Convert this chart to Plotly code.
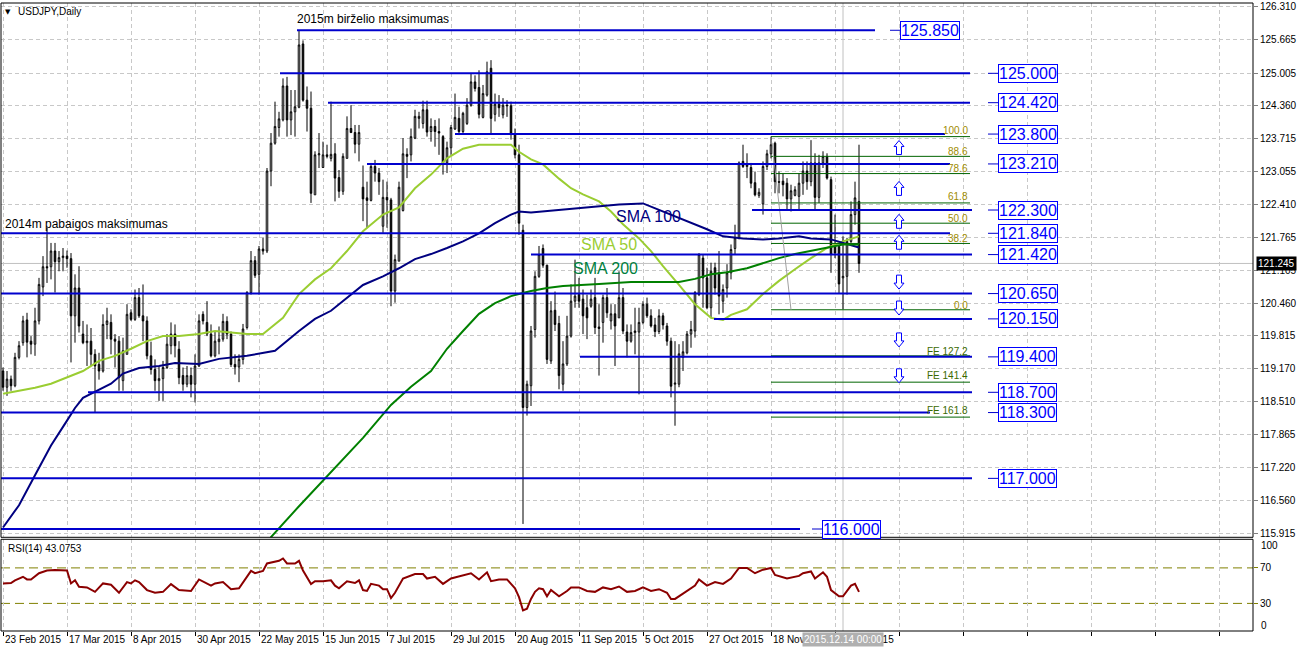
import plotly.graph_objects as go

# ------------------------------------------------------------------ data
tick_labels = ["23 Feb 2015", "17 Mar 2015", "8 Apr 2015", "30 Apr 2015", "22 May 2015",
               "15 Jun 2015", "7 Jul 2015", "29 Jul 2015", "20 Aug 2015", "11 Sep 2015",
               "5 Oct 2015", "27 Oct 2015", "18 Nov 2015", "10 Dec 2015"]

price_ticks = [126.310, 125.665, 125.005, 124.360, 123.715, 123.055, 122.410, 121.765,
               121.105, 120.460, 119.815, 119.170, 118.510, 117.865, 117.220, 116.560, 115.915]

opens = [119.12, 118.80, 118.96, 118.83, 119.39, 119.68, 120.13, 119.71, 119.65, 120.11,
         120.78, 121.18, 121.18, 121.49, 121.28, 121.36, 121.39, 121.34, 120.21, 120.76,
         119.85, 119.68, 119.71, 119.45, 119.25, 119.12, 120.04, 120.08, 119.75, 119.71,
         118.93, 119.45, 120.27, 120.14, 120.57, 120.21, 120.11, 119.42, 119.15, 118.93,
         118.97, 119.19, 119.62, 119.85, 119.55, 119.03, 118.86, 119.03, 118.86, 119.22,
         120.24, 120.08, 119.85, 119.42, 119.70, 119.75, 120.10, 119.85, 119.25, 119.20,
         119.35, 119.98, 120.67, 121.30, 121.03, 121.53, 121.49, 123.07, 123.62, 123.93,
         124.08, 124.75, 124.08, 124.24, 124.33, 125.58, 124.47, 124.31, 122.60, 123.39,
         123.14, 123.39, 123.32, 123.41, 122.94, 122.67, 123.32, 123.91, 123.83, 123.60,
         122.75, 122.54, 122.49, 123.16, 123.03, 121.98, 122.55, 122.50, 120.70, 121.29,
         122.29, 123.40, 123.39, 123.72, 124.11, 124.01, 124.28, 123.85, 123.95, 123.85,
         123.75, 123.23, 123.53, 123.90, 124.11, 123.85, 124.01, 124.37, 124.83, 124.72,
         124.13, 124.57, 125.10, 124.19, 124.39, 124.18, 124.37, 124.36, 123.80, 123.39,
         121.90, 118.40, 118.83, 119.94, 120.99, 121.54, 121.21, 119.32, 120.32, 120.06,
         118.86, 119.26, 119.81, 120.50, 120.63, 120.54, 120.37, 120.40, 120.57, 119.99,
         120.08, 120.57, 120.11, 120.25, 120.17, 120.57, 119.89, 119.71, 119.88, 119.89,
         120.08, 120.44, 120.21, 120.03, 119.90, 120.21, 120.01, 119.71, 118.86, 118.86,
         119.39, 119.48, 119.85, 119.91, 120.63, 121.35, 120.96, 120.37, 121.16, 121.06,
         120.50, 120.76, 121.06, 121.54, 121.75, 123.26, 123.16, 123.14, 122.84, 122.59,
         122.42, 123.16, 123.41, 123.62, 122.86, 122.87, 122.83, 122.52, 122.59, 122.57,
         122.83, 123.07, 122.86, 123.23, 122.55, 123.23, 123.36, 122.90, 121.58, 121.58,
         120.96, 120.99, 121.68, 122.21, 122.47]

highs = [119.19, 119.12, 119.03, 119.48, 119.71, 120.21, 120.27, 119.81, 120.37, 120.96,
         121.39, 121.95, 121.65, 121.65, 121.49, 121.55, 121.50, 121.45, 121.03, 121.19,
         120.11, 120.04, 119.97, 119.55, 119.48, 120.24, 120.37, 120.24, 119.85, 119.81,
         119.78, 120.44, 120.34, 120.73, 120.76, 120.83, 120.20, 119.70, 119.35, 119.20,
         119.32, 119.85, 120.08, 120.04, 119.71, 119.19, 119.22, 119.19, 119.45, 120.24,
         120.30, 120.50, 120.04, 119.91, 120.00, 120.25, 120.20, 119.90, 119.45, 119.45,
         120.05, 120.70, 121.49, 121.39, 121.59, 121.75, 123.13, 123.82, 124.44, 124.24,
         124.90, 124.93, 124.67, 124.67, 125.85, 125.65, 124.74, 124.64, 123.46, 123.82,
         123.65, 123.59, 124.44, 123.62, 123.09, 123.42, 124.15, 124.37, 123.98, 123.98,
         123.18, 122.86, 123.23, 123.29, 123.13, 122.90, 122.86, 122.54, 121.42, 122.86,
         123.72, 123.52, 123.91, 124.28, 124.24, 124.46, 124.46, 124.11, 124.08, 124.11,
         123.78, 123.65, 123.98, 124.60, 124.34, 124.24, 124.51, 125.00, 124.96, 125.06,
         124.77, 125.23, 125.26, 124.60, 124.57, 124.51, 124.47, 124.44, 123.91, 123.59,
         122.01, 118.93, 120.01, 121.09, 121.59, 121.62, 121.22, 120.50, 120.69, 120.21,
         119.71, 120.21, 120.83, 121.32, 120.96, 120.73, 120.63, 120.73, 120.96, 120.44,
         120.63, 120.76, 120.44, 120.44, 121.09, 120.76, 120.04, 120.04, 120.37, 120.37,
         120.50, 120.57, 120.34, 120.17, 120.34, 120.27, 120.07, 119.78, 119.71, 119.65,
         119.71, 119.91, 120.11, 120.70, 121.45, 121.42, 121.16, 121.26, 121.26, 121.49,
         120.83, 121.23, 121.62, 122.01, 123.26, 123.59, 123.42, 123.23, 123.06, 122.73,
         123.26, 123.49, 123.75, 123.65, 123.06, 123.03, 122.93, 122.80, 122.77, 123.03,
         123.26, 123.26, 123.68, 123.42, 123.39, 123.46, 123.42, 122.96, 122.21, 121.58,
         121.78, 121.75, 122.47, 122.86, 123.59]

lows = [118.73, 118.63, 118.73, 118.80, 119.35, 119.62, 119.39, 119.45, 119.42, 120.04,
        120.60, 120.86, 120.93, 120.67, 121.09, 121.09, 121.16, 119.29, 119.68, 119.88,
        119.65, 119.22, 119.22, 118.30, 118.95, 119.09, 119.75, 119.45, 119.19, 118.73,
        118.73, 119.45, 120.11, 120.11, 120.17, 119.71, 119.35, 119.05, 118.73, 118.53,
        118.53, 119.16, 119.45, 119.39, 118.86, 118.73, 118.80, 118.60, 118.50, 119.20,
        120.04, 119.81, 119.39, 119.39, 119.45, 119.70, 119.75, 119.20, 119.05, 118.90,
        119.25, 119.94, 120.63, 120.96, 120.63, 121.42, 121.45, 122.77, 123.59, 123.75,
        124.05, 123.75, 123.78, 123.75, 124.31, 124.44, 123.85, 122.44, 122.60, 123.13,
        123.13, 123.32, 123.26, 122.47, 122.54, 122.60, 123.32, 123.82, 123.42, 123.26,
        122.08, 121.95, 122.47, 122.86, 122.60, 121.85, 121.95, 120.40, 120.47, 121.29,
        122.27, 122.93, 123.26, 123.70, 123.91, 123.91, 123.75, 123.65, 123.55, 123.39,
        123.00, 123.03, 123.39, 123.88, 123.78, 123.82, 123.98, 124.34, 124.64, 124.11,
        124.11, 124.54, 123.82, 124.05, 124.14, 124.11, 124.14, 123.69, 123.32, 121.81,
        116.10, 118.24, 118.43, 119.78, 120.96, 121.16, 119.26, 119.26, 119.91, 118.76,
        118.73, 119.22, 119.78, 120.37, 120.37, 119.85, 119.75, 120.37, 119.85, 119.03,
        119.68, 120.17, 119.94, 119.22, 120.17, 119.85, 119.39, 119.68, 119.45, 118.66,
        120.04, 120.17, 119.98, 119.79, 119.85, 119.94, 119.62, 118.60, 118.04, 118.80,
        119.12, 119.45, 119.58, 119.78, 120.60, 120.37, 120.34, 120.17, 120.63, 120.24,
        120.27, 120.57, 120.93, 121.42, 121.72, 123.13, 122.93, 122.73, 122.57, 122.54,
        122.21, 123.09, 123.32, 122.63, 122.63, 122.57, 122.31, 122.27, 122.57, 122.31,
        122.60, 122.70, 122.77, 122.31, 122.44, 123.13, 122.90, 121.06, 121.35, 120.65,
        120.34, 120.63, 121.65, 122.01, 121.06]

closes = [118.80, 118.96, 118.83, 119.39, 119.62, 120.11, 119.69, 119.65, 120.11, 120.83,
          121.18, 121.16, 121.49, 121.28, 121.36, 121.39, 121.34, 120.21, 120.76, 120.01,
          119.68, 119.71, 119.45, 119.22, 119.12, 120.04, 120.11, 119.75, 119.71, 118.99,
          119.52, 120.24, 120.14, 120.57, 120.21, 120.11, 119.42, 119.15, 118.93, 118.97,
          119.19, 119.65, 119.85, 119.62, 118.99, 118.86, 119.03, 118.86, 119.22, 120.11,
          120.11, 119.85, 119.42, 119.71, 119.75, 120.10, 119.85, 119.25, 119.20, 119.35,
          119.95, 120.67, 121.30, 121.01, 121.53, 121.49, 123.07, 123.62, 123.95, 124.10,
          124.75, 124.08, 124.24, 124.34, 125.56, 124.47, 124.31, 122.63, 123.39, 123.41,
          123.39, 123.36, 123.40, 122.93, 122.67, 123.36, 123.91, 123.83, 123.60, 123.83,
          122.52, 122.49, 123.16, 123.03, 122.86, 122.55, 122.50, 120.70, 121.32, 122.75,
          123.41, 123.36, 123.75, 124.15, 124.15, 124.28, 123.84, 123.95, 123.85, 123.82,
          123.23, 123.53, 123.93, 124.13, 123.85, 124.21, 124.37, 124.83, 124.70, 124.19,
          124.60, 125.03, 124.11, 124.39, 124.32, 124.37, 124.36, 123.82, 123.39, 122.04,
          118.40, 118.86, 119.91, 120.99, 121.42, 121.21, 119.35, 120.31, 120.04, 119.03,
          119.26, 119.81, 120.50, 120.60, 120.50, 120.21, 120.17, 120.54, 119.98, 119.96,
          120.57, 120.27, 120.25, 120.01, 120.57, 119.91, 119.71, 119.88, 119.91, 120.08,
          120.44, 120.21, 120.01, 119.90, 120.21, 120.03, 119.71, 118.82, 118.88, 119.46,
          119.50, 119.85, 119.94, 120.67, 121.42, 120.96, 120.37, 121.09, 120.76, 120.60,
          120.73, 121.06, 121.52, 121.75, 123.23, 123.16, 123.20, 122.83, 122.60, 122.65,
          123.16, 123.41, 123.59, 122.86, 122.85, 122.80, 122.52, 122.68, 122.70, 122.83,
          123.07, 122.86, 123.23, 122.55, 123.23, 123.36, 122.93, 121.42, 121.45, 120.84,
          120.99, 121.68, 122.21, 122.54, 121.245]

# moving averages (bar number, value)
sma50_bar = [0, 8, 12, 16, 20, 24, 28, 32, 36, 40, 44, 49, 53, 61, 65, 70, 74, 78, 82, 86,
             90, 95, 99, 103, 107, 111, 115, 119, 124, 127, 129, 132, 135, 139, 142, 145, 149,
             152, 155, 159, 162, 165, 169, 173, 177, 180, 182, 186, 190, 194, 198, 202, 206,
             210, 214]
sma50_val = [118.67, 118.79, 118.87, 118.99, 119.12, 119.32, 119.42, 119.56, 119.71, 119.81,
             119.81, 119.85, 119.91, 119.85, 119.85, 120.17, 120.64, 120.93, 121.15, 121.49,
             121.88, 122.21, 122.35, 122.73, 123.00, 123.32, 123.51, 123.59, 123.59, 123.59,
             123.45, 123.30, 123.20, 122.92, 122.73, 122.61, 122.47, 122.27, 122.02, 121.74,
             121.49, 121.19, 120.82, 120.44, 120.17, 120.13, 120.23, 120.34, 120.64, 120.90,
             121.13, 121.35, 121.55, 121.68, 121.78]

sma100_bar = [0, 4, 8, 12, 16, 18, 20, 23, 27, 30, 34, 39, 43, 49, 54, 61, 68, 74, 78, 82,
              86, 90, 95, 99, 103, 107, 111, 115, 119, 123, 127, 129, 132, 140, 149, 154, 160,
              165, 169, 173, 176, 180, 185, 190, 194, 199, 202, 207, 211, 214]
sma100_val = [116.03, 116.47, 117.06, 117.65, 118.14, 118.39, 118.59, 118.71, 118.87, 119.07,
              119.18, 119.22, 119.28, 119.26, 119.36, 119.42, 119.52, 119.91, 120.15, 120.31,
              120.56, 120.82, 120.99, 121.15, 121.33, 121.43, 121.55, 121.68, 121.84, 122.04,
              122.21, 122.27, 122.25, 122.31, 122.37, 122.41, 122.43, 122.27, 122.14, 122.02,
              121.92, 121.78, 121.74, 121.72, 121.74, 121.78, 121.74, 121.72, 121.62, 121.56]

sma200_bar = [65, 67, 74, 82, 90, 97, 102, 107, 111, 115, 119, 123, 127, 129, 132, 136, 140,
              149, 157, 169, 173, 177, 181, 186, 190, 194, 198, 202, 206, 210, 214]
sma200_val = [115.58, 115.84, 116.45, 117.13, 117.80, 118.45, 118.81, 119.12, 119.56, 119.91,
              120.25, 120.46, 120.60, 120.64, 120.70, 120.76, 120.80, 120.84, 120.88, 120.88,
              120.94, 121.03, 121.07, 121.15, 121.25, 121.35, 121.43, 121.49, 121.56, 121.62,
              121.62]

rsi_bar = [0, 2, 3, 5, 6, 7, 9, 11, 13, 16, 17, 18, 19, 21, 23, 25, 27, 29, 31, 32, 33, 34, 36,
           38, 40, 42, 44, 47, 49, 52, 53, 55, 57, 59, 62, 63, 65, 66, 69, 70, 71, 73, 74, 75,
           77, 78, 80, 82, 83, 84, 86, 88, 89, 90, 91, 92, 94, 95, 96, 97, 98, 99, 100, 103,
           105, 106, 108, 110, 112, 117, 119, 121, 122, 124, 126, 127, 128, 129, 130, 131, 132,
           133, 134, 135, 136, 137, 139, 141, 142, 144, 146, 148, 150, 152, 154, 156, 158, 160,
           162, 164, 166, 167, 168, 170, 173, 174, 176, 178, 180, 182, 184, 186, 188, 190, 192,
           193, 196, 199, 200, 202, 203, 205, 206, 207, 209, 210, 211, 212, 213, 214]
rsi_val = [52.5, 53, 56, 60, 57, 57, 64, 67, 67.5, 67, 52.5, 56, 48.7, 48, 43, 52.5, 51, 42, 54,
           52.5, 56, 54, 45, 42, 43, 51.7, 45, 44, 57, 50, 52.5, 54, 46, 47, 66.6, 64, 66.6, 75,
           78, 80.6, 75, 75, 78, 67, 51.7, 55, 55, 56, 50, 47, 55, 53, 56, 45, 44, 52, 50, 46,
           46, 36, 42, 50, 58, 63, 63, 58, 60, 52, 58, 64, 57, 65, 55, 57, 57, 52, 47, 37, 22,
           24, 35, 43, 47, 46, 38, 45, 38, 44, 48, 48, 44, 43, 48, 46, 49, 43, 44, 48, 44, 46,
           42, 35, 35, 41, 50, 57, 50, 54, 52, 58, 70, 70, 64, 68, 70, 62, 58, 61, 64, 66, 58,
           65, 60, 45, 38, 38, 44, 50, 52, 43]

# horizontal support / resistance levels
levels = [125.850, 125.000, 124.420, 123.800, 123.210, 122.300, 121.840, 121.420,
          120.650, 120.150, 119.400, 118.700, 118.300, 117.000, 116.000]

# Fibonacci retracement / expansion levels
fib_names = ["100.0", "88.6", "78.6", "61.8", "50.0", "38.2", "0.0",
             "FE 127.2", "FE 141.4", "FE 161.8"]
fib_values = [123.75, 123.36, 123.02, 122.44, 122.04, 121.64, 120.33, 119.42, 118.90, 118.21]

current_price = 121.245
rsi_last = 43.0753

# ------------------------------------------------------------------ layout geometry
W, H = 1300, 652
ML, MR, MT, MB = 1, 47, 1, 21
PW, PH = W - ML - MR, H - MT - MB
X0, XN = -0.5, 312.5                 # 4 px per daily bar
KP = 528 / (126.310 - 115.915)       # px per yen


def px2i(px):
    return X0 + (px - ML) * (XN - X0) / PW


def py2p(py):
    return 126.310 - (py - 5) / KP


def py2paper(py):
    return (MT + PH - py) / PH


main_dom = [py2paper(537), py2paper(1)]
rsi_dom = [py2paper(631), py2paper(539)]
main_rng = [115.915 - 4 / KP, 126.310 + 4 / KP]
KR = 35.6 / 40
rsi_rng = [30 - 27.7 / KR, 70 + 28.7 / KR]

FONT = "Liberation Sans, Arial, sans-serif"
BLUE = "#0000cd"

bars = list(range(len(closes)))
fig = go.Figure()

fig.add_trace(go.Candlestick(
    x=bars, open=opens, high=highs, low=lows, close=closes,
    increasing=dict(line=dict(color="black", width=1), fillcolor="white"),
    decreasing=dict(line=dict(color="black", width=1), fillcolor="black"),
    whiskerwidth=0, hoverinfo="skip", showlegend=False))

for xs, ys, col in [(sma50_bar, sma50_val, "#9acd32"),
                    (sma100_bar, sma100_val, "#000080"),
                    (sma200_bar, sma200_val, "#008000")]:
    fig.add_trace(go.Scatter(x=xs, y=ys, mode="lines", line=dict(color=col, width=2),
                             hoverinfo="skip", showlegend=False))

# fibonacci lines
for v in fib_values:
    fig.add_trace(go.Scatter(x=[px2i(771), px2i(970)], y=[v, v], mode="lines",
                             line=dict(color="#006400", width=1), hoverinfo="skip",
                             showlegend=False))
fig.add_trace(go.Scatter(x=[px2i(772), px2i(791)], y=[fib_values[0] - 0.12, fib_values[6]],
                         mode="lines", line=dict(color="#a0a0a0", width=1),
                         hoverinfo="skip", showlegend=False))

# level lines
lvl_start_px = [297, 280, 328, 455, 367, 752, 0, 531, 0, 714, 580, 88, 0, 0, 0]
lvl_end_px = [875, 970, 970, 945, 950, 972, 950, 972, 972, 972, 972, 972, 930, 972, 800]
box_left_px = [900] + [998] * 13 + [822]
for lv, s, e in zip(levels, lvl_start_px, lvl_end_px):
    fig.add_trace(go.Scatter(x=[px2i(s), px2i(e)], y=[lv, lv], mode="lines",
                             line=dict(color=BLUE, width=2), hoverinfo="skip",
                             showlegend=False))

# RSI
fig.add_trace(go.Scatter(x=rsi_bar, y=rsi_val, mode="lines", yaxis="y2",
                         line=dict(color="#8b0000", width=2), hoverinfo="skip",
                         showlegend=False))

shapes = []
annotations = []

# current bid line
shapes.append(dict(type="line", xref="paper", x0=0, x1=1, yref="y", y0=current_price,
                   y1=current_price, line=dict(color="#c0c0c0", width=1), layer="below"))
# vertical line at 14 Dec
shapes.append(dict(type="line", xref="x", x0=210, x1=210, yref="paper", y0=0, y1=1,
                   line=dict(color="#c0c0c0", width=1), layer="below"))
# RSI levels
for lv in (70, 30):
    shapes.append(dict(type="line", xref="paper", x0=0, x1=1, yref="y2", y0=lv, y1=lv,
                       line=dict(color="#808000", width=1, dash="9px,5px"), layer="below"))
# panel frames
for d in (main_dom, rsi_dom):
    shapes.append(dict(type="rect", xref="paper", yref="paper", x0=0, x1=1, y0=d[0], y1=d[1],
                       line=dict(color="black", width=1)))

# price boxes with leader lines
for lv, bl in zip(levels, box_left_px):
    shapes.append(dict(type="line", xref="x", yref="y", x0=px2i(bl - 10), x1=px2i(bl),
                       y0=lv, y1=lv, line=dict(color=BLUE, width=1)))
    annotations.append(dict(x=px2i(bl), y=lv, xref="x", yref="y", text=f"{lv:.3f}",
                            showarrow=False, xanchor="left", yanchor="middle",
                            font=dict(family=FONT, size=16, color="#0000ff"),
                            bordercolor="#0000ff", borderwidth=1, borderpad=0,
                            bgcolor="white"))

# hollow arrows
up_px = [146, 187, 220, 241]
dn_px = [281, 307, 339, 375]
up_path = "M0,7 L5,1 L2.5,1 L2.5,-7 L-2.5,-7 L-2.5,1 L-5,1 Z"
dn_path = "M0,-7 L5,-1 L2.5,-1 L2.5,7 L-2.5,7 L-2.5,-1 L-5,-1 Z"
for pys, path in ((up_px, up_path), (dn_px, dn_path)):
    for py in pys:
        shapes.append(dict(type="path", xref="x", yref="y", xsizemode="pixel",
                           ysizemode="pixel", xanchor=px2i(899), yanchor=py2p(py), path=path,
                           line=dict(color="#0000ff", width=1), fillcolor="white"))

# fibonacci labels
fib_label_py = [129, 150, 167, 195, 217, 237, 304, 351, 375, 410]
for name, py in zip(fib_names, fib_label_py):
    col = "#3a6a00" if name.startswith("FE") else "#a08c00"
    annotations.append(dict(x=px2i(970), y=py2p(py), xref="x", yref="y", text=name,
                            showarrow=False, xanchor="right", yanchor="middle",
                            font=dict(family=FONT, size=10, color=col)))

# chart texts
texts = [
    ("2015m birželio maksimumas", 295, 17.5, 12, "black"),
    ("2014m pabaigos maksimumas", 3, 222.5, 12, "black"),
    ("SMA 100", 614, 215, 16, "#000080"),
    ("SMA 50", 579, 243.5, 16, "#9acd32"),
    ("SMA 200", 571, 267.5, 16, "#008040"),
]
for t, px, py, sz, col in texts:
    annotations.append(dict(x=px2i(px), y=py2p(py), xref="x", yref="y", text=t,
                            showarrow=False, xanchor="left", yanchor="middle",
                            font=dict(family=FONT, size=sz, color=col)))

annotations.append(dict(x=(8 - ML) / PW, y=py2paper(10), xref="paper", yref="paper",
                        text="▼", showarrow=False, xanchor="center", yanchor="middle",
                        font=dict(family="DejaVu Sans", size=7, color="black")))
annotations.append(dict(x=(16 - ML) / PW, y=py2paper(10), xref="paper", yref="paper",
                        text="USDJPY,Daily", showarrow=False, xanchor="left",
                        yanchor="middle", font=dict(family=FONT, size=10, color="black")))
annotations.append(dict(x=(6 - ML) / PW, y=py2paper(548), xref="paper", yref="paper",
                        text=f"RSI(14) {rsi_last:.4f}", showarrow=False, xanchor="left",
                        yanchor="middle", font=dict(family=FONT, size=10, color="black")))

# RSI scale extremes
for txt, py in (("100", 545), ("0", 625)):
    annotations.append(dict(x=1, y=py2paper(py), xref="paper", yref="paper", text=txt,
                            showarrow=False, xanchor="left", xshift=6, yanchor="middle",
                            font=dict(family=FONT, size=10, color="black")))

# current price tag
annotations.append(dict(x=1, y=current_price, xref="paper", yref="y",
                        text=f"{current_price:.3f}", showarrow=False, xanchor="left",
                        xshift=3, yanchor="middle", bgcolor="black", borderpad=1,
                        font=dict(family=FONT, size=10, color="white")))

# date labels
for k, lab in enumerate(tick_labels):
    annotations.append(dict(x=16 * k, y=py2paper(640), xref="x", yref="paper", text=lab,
                            showarrow=False, xanchor="left", yanchor="middle",
                            font=dict(family=FONT, size=10, color="black")))
# cursor date tag
annotations.append(dict(x=210, y=py2paper(640), xref="x", yref="paper",
                        text="2015.12.14 00:00", showarrow=False, xanchor="center",
                        yanchor="middle", bgcolor="#b0b0b0", borderpad=1,
                        font=dict(family=FONT, size=10, color="white")))

grid_pos = list(range(0, 313, 16))
GRID = dict(showgrid=True, gridcolor="#c8c8c8", griddash="4px,3px", gridwidth=1)

fig.update_layout(
    width=W, height=H, margin=dict(l=ML, r=MR, t=MT, b=MB),
    paper_bgcolor="white", plot_bgcolor="white", showlegend=False,
    font=dict(family=FONT, size=10, color="black"),
    shapes=shapes, annotations=annotations,
    xaxis=dict(domain=[0, 1], range=[X0, XN], anchor="y2", tickvals=grid_pos,
               showticklabels=False, ticks="outside", ticklen=4, tickcolor="black",
               zeroline=False, showline=False, rangeslider=dict(visible=False),
               fixedrange=True, **GRID),
    yaxis=dict(domain=main_dom, range=main_rng, side="right", anchor="x",
               tickvals=price_ticks, ticktext=[f"{v:.3f}" for v in price_ticks],
               ticks="outside", ticklen=4, tickcolor="#808080", zeroline=False,
               showline=False, tickfont=dict(family=FONT, size=10, color="black"),
               ticklabeloverflow="allow", fixedrange=True, **GRID),
    yaxis2=dict(domain=rsi_dom, range=rsi_rng, side="right", anchor="x",
                tickvals=[70, 30], ticktext=["70", "30"], ticks="outside", ticklen=4,
                tickcolor="#808000", zeroline=False, showline=False, showgrid=False,
                tickfont=dict(family=FONT, size=10, color="black"),
                ticklabeloverflow="allow", fixedrange=True),
    boxgap=0.45,
)

fig.write_html("out.html", config={"displayModeBar": False},
               post_script="document.body.style.margin='0';document.body.style.padding='0';")
